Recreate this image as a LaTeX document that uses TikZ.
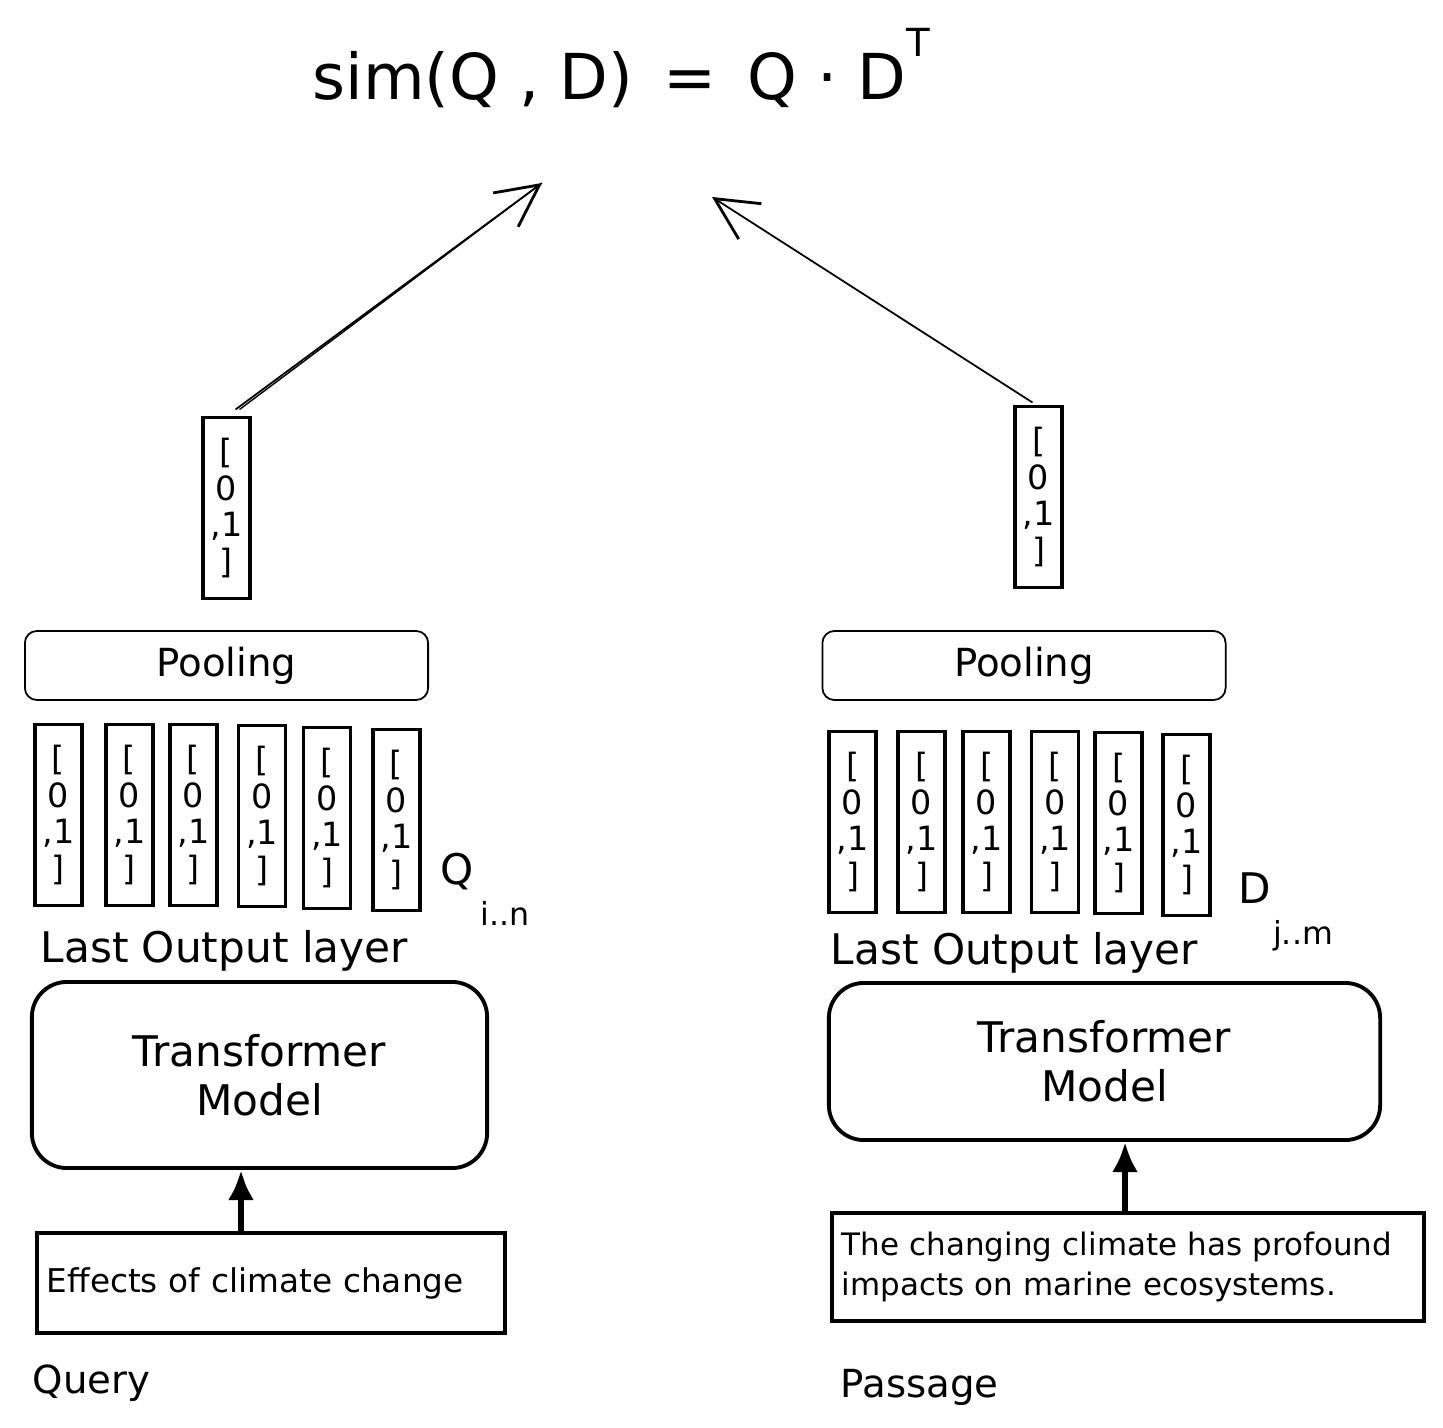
\documentclass[tikz,border=0pt]{standalone}
\usepackage{fontspec}
\setmainfont{DejaVu Sans}
\usetikzlibrary{arrows.meta}
\newcommand{\vtxt}{[\\0\\,1\\]}
\tikzset{
  vecbox/.style={draw, line width=1.1pt, minimum width=0.47cm, minimum height=1.81cm, inner sep=0pt, align=center, font=\fontsize{9.5}{10.5}\selectfont},
  poolbox/.style={draw, line width=0.5pt, rounded corners=0.12cm, minimum width=4.03cm, minimum height=0.69cm, font=\fontsize{11}{13}\selectfont},
  trbox/.style={draw, line width=1.1pt, rounded corners=0.35cm, align=center, font=\fontsize{12}{14}\selectfont},
  inbox/.style={draw, line width=1.1pt, align=left, inner xsep=0.1cm, font=\fontsize{8.8}{11.5}\selectfont},
  lbl/.style={inner sep=0pt, font=\fontsize{12}{14}\selectfont},
  thinarrow/.style={line width=0.5pt, -{Straight Barb[length=0.42cm, width=0.42cm, line width=0.8pt]}},
  thickarrow/.style={line width=1.8pt, -{Latex[length=0.3cm, width=0.26cm]}}
}
\begin{document}
\begin{tikzpicture}[x={(0.01cm,0)}, y={(0,-0.01cm)}]
\useasboundingbox[fill=white] (0,0) rectangle (1443,1428);

% formula
\node[lbl, anchor=base west, font=\fontsize{18}{21}\selectfont] (formula) at (312,100)
  {sim(Q , D) \,=\, Q · D\raisebox{1.25ex}{\fontsize{11}{11}\selectfont T}};
\coordinate (qtip) at (542,183);
\coordinate (dtip) at (712,197);

% pooled vectors
\node[vecbox] (qv) at (226.5,508) {\vtxt};
\node[vecbox] (dv) at (1038.5,497) {\vtxt};

% pooling boxes
\node[poolbox] (qpool) at (226.5,665.5) {Pooling};
\node[poolbox] (dpool) at (1024,665.5) {Pooling};

% token vectors (query)
\node[vecbox] (q1) at (58.5,815) {\vtxt};
\node[vecbox] (q2) at (129.5,815) {\vtxt};
\node[vecbox] (q3) at (193.5,815) {\vtxt};
\node[vecbox] (q4) at (262,816) {\vtxt};
\node[vecbox] (q5) at (327,818) {\vtxt};
\node[vecbox] (q6) at (396.5,820) {\vtxt};
\node[lbl] (qlab) at (457,872) {Q};
\node[lbl, font=\fontsize{9}{10}\selectfont] (qsub) at (505,913) {i..n};
\node[lbl, anchor=base west] (qlast) at (40,962) {Last Output layer};

% token vectors (passage)
\node[vecbox] (d1) at (852.5,822) {\vtxt};
\node[vecbox] (d2) at (921.5,822) {\vtxt};
\node[vecbox] (d3) at (986.5,822) {\vtxt};
\node[vecbox] (d4) at (1055,822) {\vtxt};
\node[vecbox] (d5) at (1118.5,823) {\vtxt};
\node[vecbox] (d6) at (1186.5,825) {\vtxt};
\node[lbl] (dlab) at (1255,888) {D};
\node[lbl, font=\fontsize{9}{10}\selectfont] (dsub) at (1303,936) {j..m};
\node[lbl, anchor=base west] (dlast) at (830,964) {Last Output layer};

% transformers
\node[trbox, minimum width=4.55cm, minimum height=1.86cm] (qtr) at (259.5,1075) {Transformer\\Model};
\node[trbox, minimum width=5.51cm, minimum height=1.57cm] (dtr) at (1104.5,1061.5) {Transformer\\Model};

% inputs
\node[inbox, text width=4.48cm, minimum height=1.0cm, font=\fontsize{9.3}{11.5}\selectfont] (qin) at (271,1283) {Effects of climate change};
\node[inbox, text width=5.72cm, minimum height=1.08cm] (din) at (1128,1267) {The changing climate has profound\\impacts on marine ecosystems.};

\node[lbl, anchor=base west, font=\fontsize{11}{13}\selectfont] (qname) at (32,1393) {Query};
\node[lbl, anchor=base west, font=\fontsize{11}{13}\selectfont] (dname) at (840,1397) {Passage};

% arrows
\coordinate (qa) at ([xshift=-0.3cm]qin.north);
\draw[thickarrow] (qa) -- (qa |- qtr.south);
\coordinate (da) at ([xshift=-0.03cm]din.north);
\draw[thickarrow] (da) -- (da |- dtr.south);

\draw[thinarrow] ([xshift=0.09cm,yshift=0.06cm]qv.north) -- (qtip);
\draw[line width=0.4pt] ([xshift=0.13cm,yshift=0.06cm]qv.north) -- (qtip);
\draw[thinarrow] ([xshift=-0.06cm,yshift=0.02cm]dv.north) -- (dtip);
\end{tikzpicture}
\end{document}
